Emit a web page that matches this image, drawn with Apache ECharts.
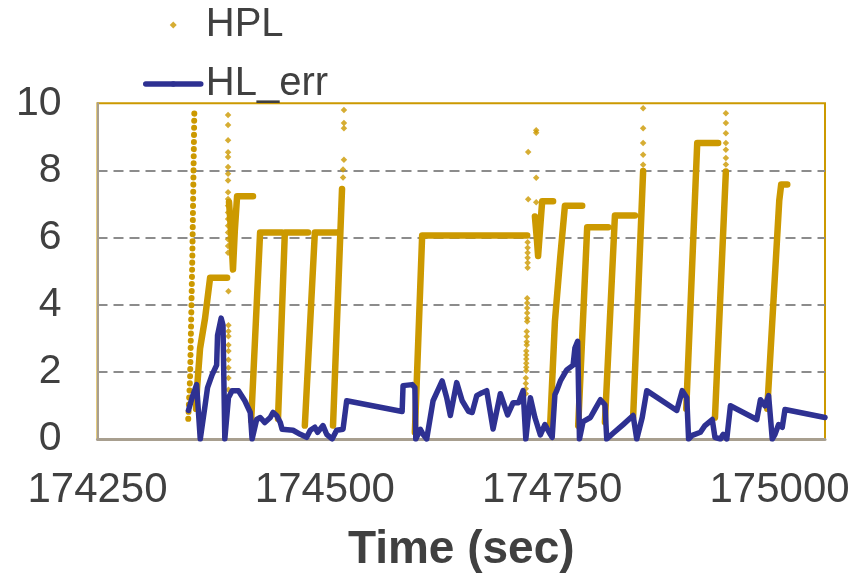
<!DOCTYPE html>
<html><head><meta charset="utf-8">
<script src="https://cdn.jsdelivr.net/npm/echarts@6/dist/echarts.min.js"></script>
<style>html,body{margin:0;padding:0;background:#fff}#c{width:864px;height:578px}</style>
</head><body><div id="c"></div>
<script>
// HL_err (blue line)
const errTime = [174350,174354,174359,174363,174368,174371,174376,174381,174382,174386,174388,174390,174394,174398,174405,174412,174418,174420,174425,174429,174434,174440,174443,174447,174451,174453,174465,174473,174480,174484,174489,174492,174498,174502,174508,174513,174520,174524,174585,174586,174596,174599,174600,174605,174608,174612,174619,174629,174634,174638,174645,174651,174658,174662,174667,174673,174678,174685,174693,174701,174707,174713,174718,174721,174726,174731,174737,174742,174748,174750,174753,174755,174759,174766,174773,174775,174778,174780,174784,174792,174797,174803,174808,174810,174817,174828,174839,174843,174849,174854,174887,174893,174898,174900,174904,174913,174918,174926,174929,174935,174938,174942,174946,174975,174979,174984,174988,174992,174995,174999,175003,175006,175050];
const errValue = [0.85,1.23,1.62,0,0.94,1.53,1.91,2.2,3.09,3.6,3.39,0,1.23,1.44,1.44,1.14,0.79,0,0.58,0.64,0.49,0.64,0.79,0.7,0.49,0.29,0.26,0.14,0.05,0.26,0.35,0.2,0.4,0.14,0,0.26,0.29,1.14,0.82,1.59,1.62,1.53,0,0.29,0.14,0,1.14,1.73,1.23,0.7,1.68,1.14,0.82,0.79,1.29,1.38,1.44,0.3,1.35,0.72,1.08,1.08,1.44,0,1.23,0.64,0.12,0.43,0.14,0.05,1.32,1.44,1.73,2.06,2.2,2.71,2.91,0,0.52,0.64,0.88,1.17,1.02,0,0.17,0.43,0.7,0,0.64,1.44,0.85,1.44,1.23,0,0.11,0.2,0.4,0.58,0.05,0,0.14,0,0.99,0.58,1.17,0.99,1.29,0,0.14,0.43,0.35,0.88,0.64];

// HPL dense runs (ramps and plateaus), null = break
const hplTime = [174358.4,174359.5,174362.8,174368.3,174371.5,174373.8,174392.5,null,
 174394.6,174396.9,174399,174401,174403.5,174421,null,
 174419,174428.8,174453,null,
 174448.5,174456,174481.5,null,
 174478,174489,174513.5,null,
 174509,174518.9,null,
 174599,174607,174722.5,null,
 174731,174733.3,174734.5,174736.8,174739,174751,null,
 174747.8,174753,174758.8,174764,174783,null,
 174778.6,174788.5,174811.6,null,
 174808,174819,174841,null,
 174839,174850,null,
 174897.4,174909.5,174932.5,null,
 174929,174941,null,
 174986.5,174999.7,175001.8,175008.5];
const hplValue = [0.9,1.53,2.7,3.6,4.3,4.8,4.8,null,
 7.06,6.2,5.05,6.2,7.23,7.23,null,
 0.55,6.15,6.15,null,
 0.6,6.15,6.15,null,
 0.4,6.15,6.15,null,
 0.4,7.45,null,
 0.2,6.06,6.06,null,
 6.63,5.9,5.45,6.3,7.08,7.08,null,
 0.43,3.5,5.4,6.95,6.95,null,
 0.4,6.31,6.31,null,
 0.5,6.66,6.66,null,
 0.64,7.98,null,
 0.9,8.82,8.82,null,
 0.64,7.97,null,
 0.9,7.1,7.58,7.58];

// HPL isolated points
const hplDotTime = [174520,174520,174521,174521,174521,174521,
 174393.6,174393.6,174393.6,174393.6,174393.6,174393.6,174393.6,174393.6,174393.6,174393.6,174393.6,174393.6,174393.6,174393.6,174393.6,174393.6,174393.6,174393.6,174394,174394,174394,174394,174394,174394,174394,174394,174394,174394,
 174723,174723,174723,174723,174723,174723,174722.5,174722.5,174722.5,174722.5,174722.5,174722.5,174722,174722,174722,174722,174721.5,174721.5,174721.5,174721.5,174721.5,174721.5,174721,174721,174721,174721,
 174723.6,174723.6,174732.4,174732.4,174732.4,174732.4,
 174850,174850,174850,174850,174850,
 174941,174941,174941,174941,174941,174941,174941];
const hplDotValue = [7.79,8.03,8.32,9.26,9.41,9.8,
 9.65,9.35,8.9,8.54,8.4,8.1,7.9,7.7,7.35,7.15,6.95,6.75,6.55,6.35,6.15,5.95,5.75,5.55,4.4,3.39,3.21,3.06,2.8,2.62,2.36,2.12,1.82,1.47,
 5.86,5.7,5.55,5.4,5.25,5.1,4.19,4.05,3.9,3.75,3.6,3.5,3.2,3.05,2.9,2.8,2.62,2.5,2.38,2.26,2.14,2.03,1.82,1.65,1.5,1.35,
 8.55,7.14,9.2,9.12,7.78,7.05,
 8.17,8.47,8.82,9.26,9.85,
 9.7,9.41,9.11,8.82,8.62,8.37,8.18];

// HPL fast run drawn as a string of dots
const hplDashTime = [174349.8,174351.8,174354.3,174356.5];
const hplDashValue = [0.6,1.82,5.45,9.8];

const xTicks = [174250,174500,174750,175000];
const xMax = 175050;
const yTicks = [0,2,4,6,8,10];

const GOLD = '#CC9900', BLUE = '#2E3192', TXT = '#404040';
const FONT = "'Liberation Sans', Arial, sans-serif";
function pairs(t, v){ return t.map((x,i)=> x===null ? ['-','-'] : [x, v[i]]); }

const chart = echarts.init(document.getElementById('c'), null, {renderer:'canvas'});
chart.setOption({
  animation:false,
  backgroundColor:'#fff',
  textStyle:{fontFamily:FONT},
  grid:{left:97.5, right:39, top:103.3, bottom:136.3, show:true, borderColor:GOLD, borderWidth:2, backgroundColor:'transparent'},
  legend:{orient:'vertical', left:143, top:5, padding:0, itemGap:19, itemWidth:55, itemHeight:7,
    textStyle:{fontSize:40, color:TXT, fontFamily:FONT},
    data:[{name:'HPL', icon:'path://M-24,0 M31,7 M0,3.5 L3.5,0 L7,3.5 L3.5,7 Z'},{name:'HL_err'}],
    lineStyle:{width:5.5, cap:'round'}},
  xAxis:{type:'value', min:xTicks[0], max:xMax, interval:xTicks[1]-xTicks[0],
    name:'Time (sec)', nameLocation:'middle', nameGap:88,
    nameTextStyle:{fontSize:46, fontWeight:'bold', color:TXT, fontFamily:FONT},
    axisLine:{show:true, lineStyle:{color:'#a89f8f', width:3}},
    axisTick:{show:false}, splitLine:{show:false},
    axisLabel:{fontSize:42, color:TXT, margin:30, fontFamily:FONT, formatter:v=>String(v), showMaxLabel:false}},
  yAxis:{type:'value', min:yTicks[0], max:yTicks[yTicks.length-1], interval:yTicks[1]-yTicks[0],
    axisLine:{show:true, lineStyle:{color:'#a89f8f', width:2}},
    axisTick:{show:false},
    axisLabel:{fontSize:41, color:TXT, margin:36, fontFamily:FONT},
    splitLine:{show:true, showMinLine:false, showMaxLine:false, lineStyle:{color:'#8c8c8c', width:2, type:[10,6]}}},
  series:[
    {name:'HPL', type:'scatter', symbol:'diamond', symbolSize:6.5, itemStyle:{color:GOLD},
     data:pairs(hplDotTime, hplDotValue)},
    {name:'HPL', type:'line', symbol:'none', connectNulls:false, lineStyle:{color:GOLD, width:6.5, cap:'round', join:'round'}, itemStyle:{color:GOLD},
     data:pairs(hplTime, hplValue)},
    {name:'HPL', type:'line', symbol:'none', lineStyle:{color:GOLD, width:6, type:[0.1,7], cap:'round'}, itemStyle:{color:GOLD},
     data:pairs(hplDashTime, hplDashValue)},
    {name:'HL_err', type:'line', symbol:'none', lineStyle:{color:BLUE, width:5.5, join:'round', cap:'round'}, itemStyle:{color:BLUE},
     data:pairs(errTime, errValue)}
  ]
});
</script></body></html>
